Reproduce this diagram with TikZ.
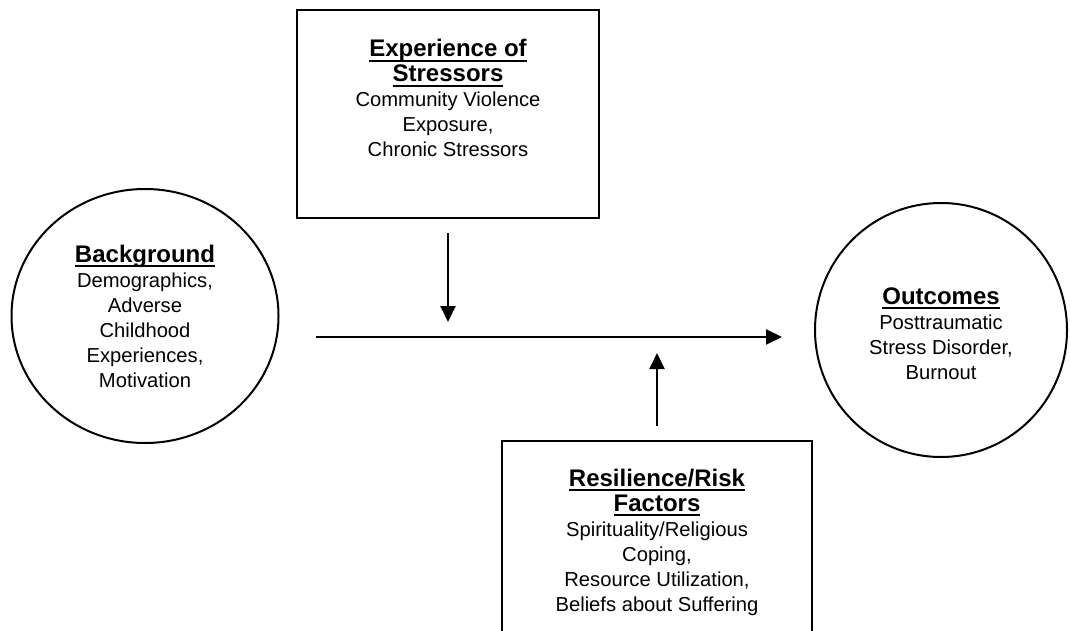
\documentclass[tikz,border=0pt]{standalone}
\usepackage{fontspec}
\setmainfont{Liberation Sans}
\usetikzlibrary{arrows.meta, shapes.geometric, positioning}

% underlined bold heading line
\newcommand{\heading}[1]{{\bfseries\fontsize{12}{12.5}\selectfont\setbox0\hbox{#1}\rlap{\rule[-2.5pt]{\wd0}{1pt}}\box0}}

\begin{document}
\begin{tikzpicture}[
        x=0.5pt, y=-0.5pt,
        every node/.style = {font=\fontsize{10.1}{12.5}\selectfont},
        factor/.style = {draw, ellipse, line width=1pt, align=center, inner sep=0pt},
        box/.style = {draw, rectangle, line width=1pt, inner sep=0pt},
        boxtext/.style = {align=center, anchor=north, inner sep=0pt},
        arrow/.style = {draw=black, -{Triangle[length=8pt, width=7.5pt]}, line width=1pt}
    ]
    \clip (0,0) rectangle (1070,631);

    % === Circles ===
    \node (background) [factor, minimum width=133.5pt, minimum height=127pt] at (145,316)
        {\heading{Background}\\Demographics,\\Adverse\\Childhood\\Experiences,\\Motivation};

    \node (outcomes) [factor, minimum width=126pt, minimum height=127pt] at (941,330)
        {\rule{0pt}{12pt}\heading{Outcomes}\\Posttraumatic\\Stress Disorder,\\Burnout};

    % === Boxes ===
    \node (stressors) [box, minimum width=151pt, minimum height=104pt,
        label={[boxtext, yshift=-15pt]north:{\heading{Experience of}\\\heading{Stressors}\\Community Violence\\Exposure,\\Chronic Stressors}}] at (448,114) {};

    \node (risk) [box, minimum width=155pt, minimum height=119.5pt,
        label={[boxtext, yshift=-14.3pt]north:{\heading{Resilience/Risk}\\\heading{Factors}\\Spirituality/Religious\\Coping,\\ Resource Utilization,\\Beliefs about Suffering}}] at (657,560.5) {};

    % === Arrows ===
    \coordinate (lineStart) at (316,337);
    \coordinate (lineEnd) at (782,337);
    \coordinate (stressHit) at (448,337);
    \coordinate (riskHit) at (657,337);

    \draw [arrow] (lineStart) -- (lineEnd);
    \draw [arrow, shorten <=7pt, shorten >=7.5pt] (stressors) -- (stressHit);
    \draw [arrow, shorten <=7pt, shorten >=8pt] (risk) -- (riskHit);

\end{tikzpicture}
\end{document}
